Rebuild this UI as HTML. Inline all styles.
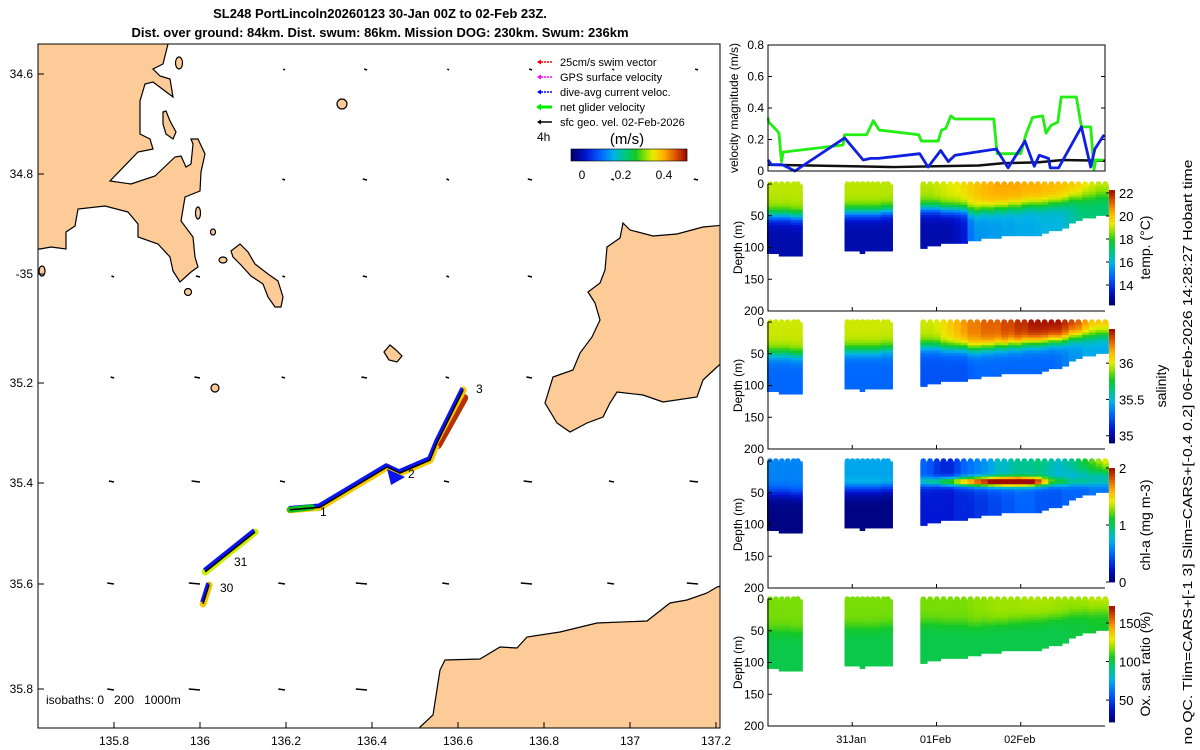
<!DOCTYPE html>
<html><head><meta charset="utf-8">
<style>
html,body{margin:0;padding:0;background:#fff;}
svg{display:block;font-family:"Liberation Sans","DejaVu Sans",sans-serif;}
</style></head>
<body>
<svg id="fig" width="1200" height="750" viewBox="0 0 1200 750" xmlns="http://www.w3.org/2000/svg">
<rect x="0" y="0" width="1200" height="750" fill="#fff"/>
<text x="380" y="18" font-size="13" font-weight="bold" text-anchor="middle">SL248 PortLincoln20260123 30-Jan 00Z to 02-Feb 23Z.</text>
<text x="380" y="37" font-size="13" font-weight="bold" text-anchor="middle">Dist. over ground: 84km. Dist. swum: 86km. Mission DOG: 230km. Swum: 236km</text>

<g id="map">
<clipPath id="mapclip"><rect x="38" y="44" width="682" height="684"/></clipPath>
<g clip-path="url(#mapclip)" stroke="#000" stroke-width="1.2" fill="#fccb97">
<polygon points="168,44 163,64 153,69 160,76 170,79 173,97 165,91 153,82 145,84 140,101 140,134 150,139 153,149 138,152 110,181 131,184 155,176 175,157 181,156 186,167 191,164 193,144 191,139 198,139 205,154 201,172 200,191 185,197 181,221 193,237 195,257 198,267 191,272 180,282 173,271 170,257 158,244 138,237 138,224 128,212 105,206 78,209 75,226 66,232 66,249 51,247 40,249 30,249 30,30 170,30"/>
<polygon points="231,251 240,244 248,252 255,264 268,274 278,281 283,297 281,307 275,307 268,297 263,284 251,276 240,264 233,257"/>
<polygon points="163,112 166,111 170,121 176,132 173,139 166,134 163,124"/>
<ellipse cx="179" cy="63" rx="3.5" ry="6"/>
<ellipse cx="198" cy="213" rx="2.5" ry="6"/>
<ellipse cx="188" cy="292" rx="3.5" ry="3.5"/>
<ellipse cx="223" cy="260" rx="4" ry="3"/>
<ellipse cx="213" cy="232" rx="2.5" ry="3"/>
<ellipse cx="342" cy="104" rx="5" ry="5"/>
<ellipse cx="215" cy="388" rx="4" ry="4"/>
<polygon points="384,352 390,345 396,350 402,356 397,362 389,360"/>
<polygon points="623,223 630,230 653,236 677,234 703,227 725,225 725,360 717,367 703,380 697,397 663,402 643,395 617,392 610,403 603,417 587,423 570,432 557,423 545,403 553,377 573,370 580,353 592,337 600,320 595,303 588,292 600,283 605,270 607,247 620,238"/>
<polygon points="420,735 420,727 433,715 440,670 445,660 480,659 500,647 517,648 527,637 560,632 597,623 647,621 670,603 687,600 707,593 717,587 725,585 725,735"/>
<ellipse cx="42" cy="271" rx="3" ry="5"/>
</g>
<g id="arrowgrid" stroke="#000" stroke-width="1.3"></g>
<g id="track"></g>
<text x="320" y="516" font-size="12">1</text>
<text x="408" y="478" font-size="12">2</text>
<text x="476" y="393" font-size="12">3</text>
<text x="234" y="566" font-size="12">31</text>
<text x="220" y="592" font-size="12">30</text>
<text x="46" y="704" font-size="12" xml:space="preserve">isobaths: 0   200   1000m</text>
<rect x="38" y="44" width="682" height="684" fill="none" stroke="#000" stroke-width="1"/>
<g id="mapticks" font-size="12"></g>
<g font-size="11">
<g><line x1="538" y1="62" x2="552" y2="62" stroke="#f00" stroke-width="1.5" stroke-dasharray="2,1"/><path d="M537 62 l4 -2.5 v5z" fill="#f00"/><text x="560" y="66">25cm/s swim vector</text></g>
<g><line x1="538" y1="77" x2="552" y2="77" stroke="#f0f" stroke-width="1.5" stroke-dasharray="2,1"/><path d="M537 77 l4 -2.5 v5z" fill="#f0f"/><text x="560" y="81">GPS surface velocity</text></g>
<g><line x1="538" y1="92" x2="552" y2="92" stroke="#00f" stroke-width="1.5" stroke-dasharray="2,1"/><path d="M537 92 l4 -2.5 v5z" fill="#00f"/><text x="560" y="96">dive-avg current veloc.</text></g>
<g><line x1="538" y1="107" x2="552" y2="107" stroke="#0e0" stroke-width="3"/><path d="M536 107 l5 -3.5 v7z" fill="#0e0"/><text x="560" y="111">net glider velocity</text></g>
<g><line x1="538" y1="122" x2="552" y2="122" stroke="#000" stroke-width="1.5"/><path d="M537 122 l4 -2.5 v5z" fill="#000"/><text x="560" y="126">sfc geo. vel. 02-Feb-2026</text></g>
<text x="537" y="141" font-size="12">4h</text>
<text x="627" y="144" font-size="15" text-anchor="middle">(m/s)</text>
<g id="speedcb"></g>
<text x="582" y="179" font-size="12" text-anchor="middle">0</text>
<text x="623" y="179" font-size="12" text-anchor="middle">0.2</text>
<text x="664" y="179" font-size="12" text-anchor="middle">0.4</text>
</g>
</g>

<g id="vel"></g>
<g id="sections"></g>
<text transform="translate(1192,452) rotate(-90)" font-size="13" text-anchor="middle" textLength="585" lengthAdjust="spacingAndGlyphs">no QC. Tlim=CARS+[-1 3] Slim=CARS+[-0.4 0.2] 06-Feb-2026 14:28:27 Hobart time</text>
</svg>
<script>
const netTimes = [0,0.01,0.10,0.13,0.16,0.18,0.89,0.91,1.17,1.25,1.32,1.79,1.82,2.02,2.06,2.11,2.17,2.22,2.68,2.72,3.00,3.06,3.14,3.26,3.30,3.36,3.44,3.48,3.66,3.72,3.83,3.87,3.89,3.98];
const netSpeed = [0.34,0.31,0.26,0.24,0.06,0.12,0.165,0.23,0.23,0.32,0.26,0.23,0.19,0.19,0.26,0.27,0.35,0.33,0.33,0.11,0.11,0.23,0.34,0.35,0.24,0.29,0.31,0.47,0.47,0.28,0.28,0.01,0.07,0.07];
const curTimes = [0,0.04,0.17,0.32,0.91,1.13,1.22,1.31,1.80,1.90,2.05,2.14,2.22,2.71,2.85,3.05,3.16,3.22,3.33,3.35,3.45,3.72,3.83,3.88,3.99];
const curSpeed = [0.07,0.04,0.04,0.0,0.21,0.07,0.08,0.08,0.11,0.025,0.13,0.06,0.10,0.14,0.02,0.19,0.03,0.10,0.08,0.02,0.02,0.28,0.025,0.14,0.23];
const geoTimes = [0,0.5,1.0,1.5,2.0,2.5,2.8,3.2,3.5,4.0];
const geoSpeed = [0.04,0.035,0.03,0.025,0.03,0.035,0.05,0.055,0.07,0.065];
const velTicks = [0,0.2,0.4,0.6,0.8];
const dayTicks = [1,2,3];
const dayLabels = ["31Jan","01Feb","02Feb"];
const profTimes = [0.00,0.07,0.14,0.21,0.28,0.33, 0.92,0.98,1.04,1.10,1.16,1.22,1.28,1.35,1.40, 1.82,1.90,1.98,2.06,2.14,2.22,2.30,2.38,2.46,2.54,2.62,2.70,2.78,2.86,2.94,3.02,3.10,3.18,3.26,3.34,3.42,3.50,3.58,3.66,3.74,3.82,3.90,3.98];
const profBottom = [110,110,112,112,115,115, 105,105,107,108,107,106,106,105,105, 100,97,96,95,95,93,92,90,88,86,85,84,83,82,82,81,80,80,78,75,73,68,60,58,55,52,50,50];
const profMld = [50,50,50,50,52,52, 45,45,45,45,45,45,45,43,43, 38,38,38,40,40,40,40,42,42,40,40,38,38,36,36,34,33,33,32,30,30,28,24,24,22,22,20,20];
const tempTop = [19.0,19.0,19.0,19.0,19.0,19.0, 19.0,19.0,19.0,19.0,19.0,19.0,19.0,19.0,19.0, 19.0,19.0,19.1,19.2,19.3,19.4,19.6,19.8,20.0,20.2,20.3,20.4,20.4,20.4,20.4,20.3,20.3,20.3,20.2,20.2,20.1,20.0,19.9,19.7,19.4,19.2,19.0,19.0];
const tempBot = [13,13,13,13,13,13, 13,13,13,13,13,13,13,13,13, 13,13,13,13,13,13.2,13.5,15,15.5,15.5,15.6,15.6,15.7,15.7,15.8,15.8,15.8,15.9,16,16,16,16.2,16.5,16.8,17,17,17,17];
const salTop = [35.98,35.98,35.98,35.98,35.98,35.98, 35.98,35.98,35.98,35.98,35.98,35.98,35.98,35.98,35.98, 35.98,35.98,36.0,36.05,36.1,36.15,36.2,36.25,36.25,36.3,36.3,36.3,36.35,36.35,36.4,36.4,36.45,36.45,36.45,36.45,36.45,36.4,36.35,36.3,36.2,36.1,36.1,36.1];
const salBot = [35.3,35.3,35.3,35.3,35.3,35.3, 35.3,35.3,35.3,35.3,35.3,35.3,35.3,35.3,35.3, 35.25,35.25,35.25,35.25,35.25,35.25,35.25,35.28,35.3,35.3,35.3,35.3,35.3,35.3,35.3,35.3,35.3,35.3,35.3,35.3,35.32,35.35,35.4,35.4,35.45,35.45,35.45,35.45];
const chlTop = [0.6,0.6,0.6,0.6,0.6,0.6, 0.7,0.7,0.7,0.7,0.7,0.7,0.7,0.7,0.7, 0.5,0.45,0.35,0.3,0.3,0.4,0.5,0.55,0.6,0.65,0.7,0.8,0.8,0.85,0.9,0.9,0.9,0.95,0.9,0.85,0.8,0.85,0.9,1.0,1.1,1.2,1.3,1.4];
const chlBot = [0.05,0.05,0.05,0.05,0.05,0.05, 0.05,0.05,0.05,0.05,0.05,0.05,0.05,0.05,0.05, 0.25,0.25,0.25,0.25,0.25,0.3,0.3,0.3,0.35,0.35,0.4,0.4,0.45,0.45,0.5,0.5,0.5,0.45,0.45,0.45,0.45,0.5,0.5,0.5,0.5,0.55,0.55,0.55];
const chlPeak = [0,0,0,0,0,0, 0.1,0.1,0.1,0.1,0.1,0.1,0.1,0.1,0.1, 0.4,0.5,0.6,0.8,0.9,1.0,1.1,1.2,1.3,1.4,1.5,1.6,1.7,1.7,1.7,1.6,1.5,1.2,0.9,0.6,0.5,0.4,0.3,0.3,0.3,0.2,0.2,0.2];
const oxyTop = [116,116,116,116,116,116, 116,116,116,116,116,116,116,116,116, 116,116,116,116,116,116,116,117,118,118,119,120,120,120,120,121,121,121,121,121,120,120,120,120,121,122,123,123];
const oxyBot = [100,100,100,100,100,100, 100,100,100,100,100,100,100,100,100, 100,100,100,100,100,100,100,100,100,100,100,100,100,100,100,100,100,100,100,100,100,100,102,102,102,104,104,104];
const trackLon = [136.209,136.279,136.435,136.465,136.535,136.551,136.612];
const trackLat = [35.453,35.448,35.368,35.380,35.354,35.320,35.214];
const track31Lon = [136.012,136.128];
const track31Lat = [35.576,35.497];
const track30Lon = [136.007,136.021];
const track30Lat = [35.638,35.602];
const lonTicks = [135.8,136,136.2,136.4,136.6,136.8,137,137.2];
const latTicks = [34.6,34.8,35.0,35.2,35.4,35.6,35.8];
const latTickLabels = ["34.6","34.8","-35","35.2","35.4","35.6","35.8"];
const gridU = [-0.2,-0.3,-0.3,-0.4,-0.6,-0.8];

const NS = "http://www.w3.org/2000/svg";
function mk(tag, attrs, parent){const e=document.createElementNS(NS,tag);for(const k in attrs)e.setAttribute(k,attrs[k]);parent.appendChild(e);return e;}
function clamp(v){return Math.max(0,Math.min(1,v));}
const cmStops=[[0,[0,0,110]],[0.12,[0,20,210]],[0.25,[0,100,255]],[0.37,[0,180,230]],[0.47,[0,200,120]],[0.56,[20,200,40]],[0.64,[140,225,0]],[0.71,[235,235,0]],[0.8,[255,180,0]],[0.9,[225,90,0]],[1,[160,10,0]]];
function jet(v){v=clamp(v);for(let i=0;i<cmStops.length-1;i++){const a=cmStops[i],b=cmStops[i+1];if(v<=b[0]){const f=(v-a[0])/(b[0]-a[0]);const c=a[1].map((x,j)=>Math.round(x+(b[1][j]-x)*f));return `rgb(${c[0]},${c[1]},${c[2]})`;}}return 'rgb(160,10,0)';}
function lonX(lon){return 200+(lon-136)*430;}
const latPix = [74,174,274,383,483,584,689];
function latY(lat){for(let i=0;i<latTicks.length-1;i++){if(lat<=latTicks[i+1]||i===latTicks.length-2){return latPix[i]+(lat-latTicks[i])/(latTicks[i+1]-latTicks[i])*(latPix[i+1]-latPix[i]);}}}
const X0=768,X1=1105;
function tX(t){return X0+t/4*(X1-X0);}

const mt=document.getElementById('mapticks');
lonTicks.forEach((v,i)=>{const x=lonX(v);
 let l=mk('line',{x1:x,y1:728,x2:x,y2:722,stroke:'#000'},mt);
 
 
 let t=mk('text',{x:x,y:745,'text-anchor':'middle'},mt);t.textContent=String(v);
 
 
});
latTicks.forEach((v,i)=>{const y=latY(v);
 let l=mk('line',{x1:38,y1:y,x2:44,y2:y,stroke:'#000'},mt);
 
 
 let t=mk('text',{x:33,y:y+4,'text-anchor':'end'},mt);t.textContent=latTickLabels[i];
 
 
});
const ag=document.getElementById('arrowgrid');
function onLand(x,y){ if(x<205&&y<250) return true; if(x>560&&y>222&&y<430) return true; if(y>630&&x>440) return true; return false;}
const gridXs=[114,200,285,367,449,532,614,698], gridYs=[70,180,277,378,482,584,690];
gridYs.forEach((y,j)=>{gridXs.forEach((x,i)=>{ if(onLand(x,y)) return;
 const u=gridU[Math.min(j,gridU.length-1)]*(i%2?1:0.6);
 let l=mk('line',{x1:x,y1:y,x2:x+u*14,y2:y-1,stroke:'#000','stroke-width':1.5},ag);
 
 
});});
const scb=document.getElementById('speedcb');
for(let i=0;i<58;i++){let r=mk('rect',{x:571+i*2,y:149,width:2.2,height:12,fill:jet(i/57)},scb);
 
 }
mk('rect',{x:571,y:149,width:116,height:12,fill:'none',stroke:'#000','stroke-width':0.6},scb);

const tg=document.getElementById('track');
function drawTrack(lons,lats,name,color){
 const pts=lons.map((v,i)=>lonX(v)+','+latY(lats[i])).join(' ');
 let a=mk('polyline',{points:pts,fill:'none',stroke:color,'stroke-width':7,'stroke-linecap':'round','stroke-linejoin':'round'},tg);
 
 
 const ptsB=lons.map((v,i)=>(lonX(v)-1)+','+(latY(lats[i])-2)).join(' ');
 let b=mk('polyline',{points:ptsB,fill:'none',stroke:'#0a14f0','stroke-width':3.5,'stroke-linejoin':'round'},tg);
 
 
 let c=mk('polyline',{points:pts,fill:'none',stroke:'#000','stroke-width':1.5},tg);
 
 
}
{
 let r=mk('line',{x1:lonX(trackLon[5])+1,y1:latY(trackLat[5])+2,x2:lonX(trackLon[6])+1,y2:latY(trackLat[6])+8,stroke:'#b83000','stroke-width':8,'stroke-linecap':'round'},tg);
 
 
}
drawTrack(trackLon,trackLat,'main-track','#f5c800');
drawTrack(track31Lon,track31Lat,'track-31','#c8f000');
drawTrack(track30Lon,track30Lat,'track-30','#f0c800');
{
 let r2=mk('line',{x1:lonX(trackLon[5])+2,y1:latY(trackLat[5])+3,x2:lonX(trackLon[6])+1,y2:latY(trackLat[6])+9,stroke:'#b83000','stroke-width':3},tg);
 
 
 let g=mk('line',{x1:lonX(trackLon[0]),y1:latY(trackLat[0]),x2:lonX(trackLon[1])-8,y2:latY(trackLat[1]),stroke:'#10c020','stroke-width':6,'stroke-linecap':'round'},tg);
 
 
 let k=mk('line',{x1:lonX(trackLon[0]),y1:latY(trackLat[0]),x2:lonX(trackLon[1]),y2:latY(trackLat[1]),stroke:'#000','stroke-width':1.5},tg);
 
 
 let tri=mk('path',{d:`M${lonX(trackLon[2])} ${latY(trackLat[2])+2} l4 16 l14 -8z`,fill:'#0a14f0'},tg);
 
 
}

const vg=document.getElementById('vel');
const VY0=171,VY1=45;
function vY(v){return VY0-(v/0.8)*(VY0-VY1);}
velTicks.forEach(v=>{const y=vY(v);
 let t=mk('text',{x:764,y:y+4,'text-anchor':'end','font-size':12},vg);t.textContent=String(v);
 
 
 let l=mk('line',{x1:768,y1:y,x2:772,y2:y,stroke:'#000'},vg);
 
 
 let l2=mk('line',{x1:1101,y1:y,x2:1105,y2:y,stroke:'#000'},vg);
 
 
});
{let t=mk('text',{transform:'translate(738,108) rotate(-90)','text-anchor':'middle','font-size':12},vg);t.textContent='velocity magnitude (m/s)';
 
 }
function series(times,vals,color,w,name){
 const pts=times.map((t,i)=>tX(t)+','+vY(vals[i])).join(' ');
 let p=mk('polyline',{points:pts,fill:'none',stroke:color,'stroke-width':w,'stroke-linejoin':'round'},vg);
 
 
}
series(geoTimes,geoSpeed,'#111',2.5,'geo-velocity-line');
series(netTimes,netSpeed,'#22ee11',2.8,'net-glider-velocity-line');
series(curTimes,curSpeed,'#1020e0',2.8,'dive-avg-current-line');
{let b=mk('rect',{x:768,y:45,width:337,height:126,fill:'none',stroke:'#000','stroke-width':1},vg);
 
 }

const sg=document.getElementById('sections');
const panelTop=[184,322,461,599], PH=127;
const panels=[
 {name:'temperature',top:tempTop,bot:tempBot,peak:null,vmin:12.26,vmax:22.26,ticks:[14,16,18,20,22],labels:['14','16','18','20','22'],title:'temp. (°C)',titleX:1150,cbTop:190,cbBot:305},
 {name:'salinity',top:salTop,bot:salBot,peak:null,vmin:34.9,vmax:36.47,ticks:[35,35.5,36],labels:['35','35.5','36'],title:'salinity',titleX:1166,cbTop:329,cbBot:443},
 {name:'chlorophyll',top:chlTop,bot:chlBot,peak:chlPeak,vmin:0,vmax:2,ticks:[0,1,2],labels:['0','1','2'],title:'chl-a (mg m-3)',titleX:1150,cbTop:468,cbBot:582},
 {name:'oxygen',top:oxyTop,bot:oxyBot,peak:null,vmin:21.6,vmax:172,ticks:[50,100,150],labels:['50','100','150'],title:'Ox. sat. ratio (%)',titleX:1150,cbTop:606,cbBot:722}
];
panels.forEach((P,k)=>{
 const y0=panelTop[k];
 const dY=d=>y0+d/200*PH;
 const g=mk('g',{},sg);
 
 
 const norm=v=>(v-P.vmin)/(P.vmax-P.vmin);
 profTimes.forEach((t,i)=>{
  const x=tX(t);
  const nxt=(i<profTimes.length-1)?tX(profTimes[i+1])-x:6;
  const w=Math.min(nxt,7.5)+0.5;
  for(let d=3;d<profBottom[i];d+=4){
   const s=1/(1+Math.exp(-(d-profMld[i])/6));
   let v=P.top[i]+(P.bot[i]-P.top[i])*s;
   if(P.peak){v+=P.peak[i]*Math.exp(-Math.pow((d-33)/7,2));}
   let r=mk('rect',{x:x-1,y:dY(d)-1.5,width:w,height:4/200*PH+1,fill:jet(norm(v))},g);
   
   
  }
  let c=mk('circle',{cx:x+2,cy:dY(0),r:2.8,fill:jet(norm(P.top[i]))},g);
  
  
 });
 let ax=mk('path',{d:`M768 ${y0} V${y0+PH} H1105`,fill:'none',stroke:'#000','stroke-width':1},g);
 
 
 [0,50,100,150,200].forEach(d=>{
  let t=mk('text',{x:764,y:dY(d)+4,'text-anchor':'end','font-size':12},g);t.textContent=String(d);
  
  
  let l=mk('line',{x1:768,y1:dY(d),x2:772,y2:dY(d),stroke:'#000'},g);
  
  
 });
 dayTicks.forEach((dd,j)=>{
  let l=mk('line',{x1:tX(dd),y1:y0+PH,x2:tX(dd),y2:y0+PH-4,stroke:'#000'},g);
  
  
  if(k===3){let t=mk('text',{x:tX(dd)-1,y:y0+PH+17,'text-anchor':'middle','font-size':11},g);t.textContent=dayLabels[j];
   
   }
 });
 let yt=mk('text',{transform:`translate(742,${y0+PH/2}) rotate(-90)`,'text-anchor':'middle','font-size':12},g);yt.textContent='Depth (m)';
 
 
 const cb=mk('g',{},g);
 
 
 const n=40,h=(P.cbBot-P.cbTop)/n;
 for(let i=0;i<n;i++){let r=mk('rect',{x:1109,y:P.cbBot-(i+1)*h,width:6,height:h+0.4,fill:jet((i+0.5)/n)},cb);
  
  }
 P.ticks.forEach((tv,j)=>{
  const y=P.cbBot-(tv-P.vmin)/(P.vmax-P.vmin)*(P.cbBot-P.cbTop);
  let l=mk('line',{x1:1106,y1:y,x2:1109,y2:y,stroke:'#000'},cb);
  
  
  let t=mk('text',{x:1119,y:y+5,'font-size':13},cb);t.textContent=P.labels[j];
  
  
 });
 let ct=mk('text',{transform:`translate(${P.titleX},${(P.cbTop+P.cbBot)/2}) rotate(-90)`,'text-anchor':'middle','font-size':14},cb);ct.textContent=P.title;
 
 
});
</script>
</body></html>
